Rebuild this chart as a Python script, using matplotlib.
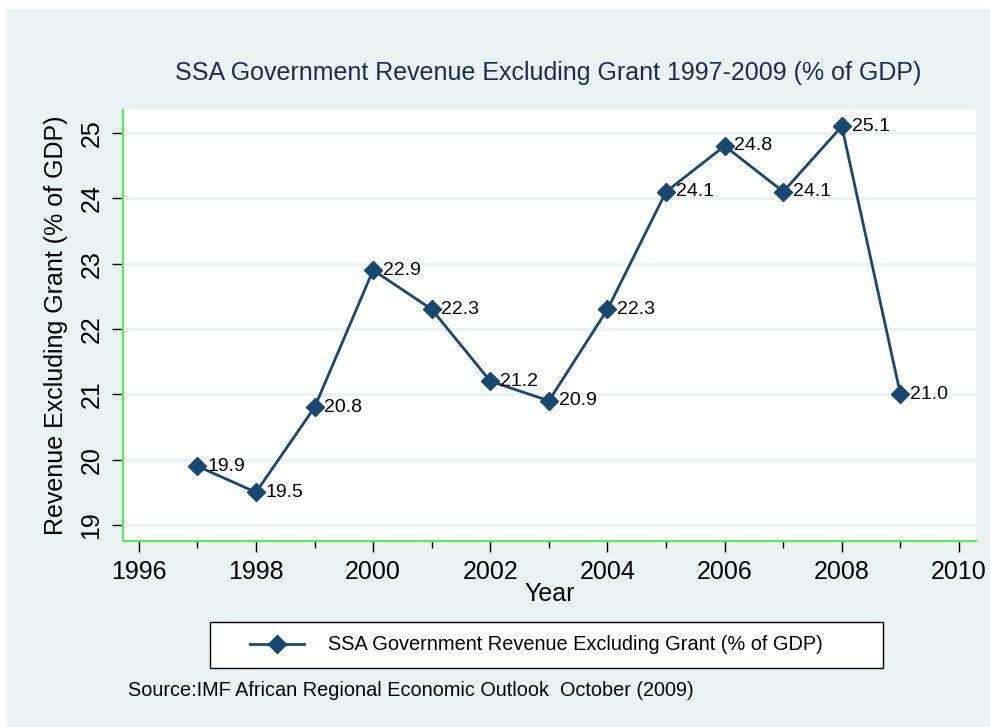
import numpy as np
import matplotlib
matplotlib.use("Agg")
import matplotlib.pyplot as plt
from matplotlib.patches import Rectangle
from matplotlib.ticker import MultipleLocator

plt.rcParams['font.family'] = ['Liberation Sans', 'DejaVu Sans']

years = [1997, 1998, 1999, 2000, 2001, 2002, 2003, 2004, 2005, 2006, 2007, 2008, 2009]
revenue = [19.9, 19.5, 20.8, 22.9, 22.3, 21.2, 20.9, 22.3, 24.1, 24.8, 24.1, 25.1, 21.0]
series_name = "SSA Government Revenue Excluding Grant (% of GDP)"
title = "SSA Government Revenue Excluding Grant 1997-2009 (% of GDP)"
source = "Source:IMF African Regional Economic Outlook  October (2009)"

bg = '#eaf2f3'
navy = '#1a476f'
W, H = 990, 727

fig = plt.figure(figsize=(9.9, 7.27), dpi=100, facecolor='white')
fig.patches.append(Rectangle((7 / W, 0), 1 - 7 / W, 1 - 9 / H, transform=fig.transFigure,
                             facecolor=bg, edgecolor='none', zorder=-10))

ax = fig.add_axes([123 / W, 1 - 541 / H, (976 - 123) / W, (541 - 110) / H])
ax.set_facecolor('white')
ax.plot(years, revenue, color=navy, lw=2, marker='D', ms=9, label=series_name, zorder=3)
for x, y in zip(years, revenue):
    ax.annotate(f"{y:.1f}", (x, y), xytext=(7, 0), textcoords='offset points',
                va='center', ha='left', fontsize=14, color='black')

ax.set_xlim(1995.73, 2010.29)
ax.set_ylim(18.755, 25.35)
ax.set_xticks(np.arange(1996, 2011, 2))
ax.xaxis.set_minor_locator(MultipleLocator(1))
ax.set_yticks(np.arange(19, 26, 1))
ax.grid(axis='y', color=bg, lw=2)
ax.set_axisbelow(True)

for s in ['top', 'right']:
    ax.spines[s].set_visible(False)
for s in ['left', 'bottom']:
    ax.spines[s].set_color('#55ee55')
    ax.spines[s].set_linewidth(1.5)

ax.tick_params(axis='x', which='major', length=8, width=1, labelsize=18, pad=6)
ax.tick_params(axis='x', which='minor', length=5, width=1)
ax.tick_params(axis='y', length=8, width=1, labelsize=18, pad=6)
for lab in ax.get_yticklabels():
    lab.set_rotation(90)
    lab.set_va('center')

ax.set_xlabel("Year", fontsize=18, labelpad=-2)
ax.set_ylabel("Revenue Excluding Grant (% of GDP)", fontsize=18, labelpad=8)

fig.text(548 / W, 1 - 73 / H, title, ha='center', va='center', fontsize=18, color='#1e2c50')

# legend frame drawn as a figure rectangle, legend itself without frame
fig.patches.append(Rectangle((210 / W, 1 - 668 / H), (883 - 210) / W, 46 / H,
                             transform=fig.transFigure, facecolor='white',
                             edgecolor='black', lw=1, zorder=1))
leg = fig.legend(loc='center left', bbox_to_anchor=(250 / W, 1 - 645 / H),
                 fontsize=14.4, frameon=False, handlelength=2.7, handletextpad=1.2,
                 borderaxespad=0, borderpad=0)
leg.set_zorder(2)

fig.text(128 / W, 1 - 690 / H, source, ha='left', va='center', fontsize=14.3)

fig.savefig("out.png", dpi=100, facecolor=fig.get_facecolor())
